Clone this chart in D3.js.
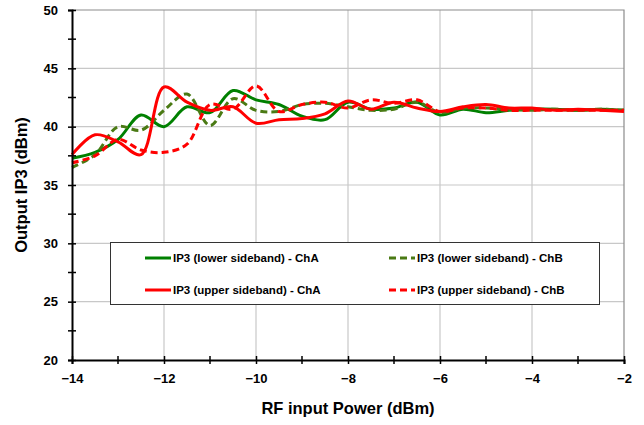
<!DOCTYPE html>
<html>
<head>
<meta charset="utf-8">
<script src="https://cdn.jsdelivr.net/npm/d3@7"></script>
<style>
  body { margin: 0; background: #fff; }
  text { font-family: "Liberation Sans", Arial, sans-serif; font-weight: bold; }
</style>
</head>
<body>
<div id="chart"></div>
<script>
// RF input power (dBm)
const powerIn = [-14, -13.5, -13, -12.5, -12, -11.5, -11, -10.5, -10, -9.5, -9, -8.5, -8,
                 -7.5, -7, -6.5, -6, -5.5, -5, -4.5, -4, -3.5, -3, -2.5, -2];

// Output IP3 (dBm)
const lowerChA = [37.3, 37.8, 38.9, 41.0, 40.0, 41.7, 41.2, 43.1, 42.3, 41.9, 40.9, 40.6, 42.1,
                  41.5, 41.6, 42.1, 41.0, 41.5, 41.2, 41.4, 41.5, 41.5, 41.4, 41.5, 41.4];
const lowerChB = [36.5, 37.6, 40.0, 39.7, 41.4, 42.8, 40.1, 42.4, 41.4, 41.3, 41.9, 42.0, 41.7,
                  41.4, 41.5, 42.1, 41.2, 41.6, 41.6, 41.5, 41.4, 41.5, 41.4, 41.5, 41.4];
const upperChA = [37.6, 39.3, 38.7, 37.6, 43.4, 42.1, 41.4, 41.7, 40.3, 40.6, 40.7, 41.1, 42.2,
                  41.5, 42.1, 41.6, 41.3, 41.7, 41.9, 41.6, 41.6, 41.4, 41.5, 41.4, 41.3];
const upperChB = [36.9, 37.5, 38.9, 38.0, 37.8, 38.5, 41.9, 41.5, 43.5, 41.3, 41.9, 42.1, 41.6,
                  42.3, 42.0, 42.3, 41.3, 41.6, 41.6, 41.4, 41.4, 41.4, 41.4, 41.4, 41.4];

const seriesNames = ["IP3 (lower sideband) - ChA", "IP3 (lower sideband) - ChB",
                     "IP3 (upper sideband) - ChA", "IP3 (upper sideband) - ChB"];

const series = [
    {name: seriesNames[0], values: lowerChA, color: "#008000", dash: null},
    {name: seriesNames[1], values: lowerChB, color: "#4a7a14", dash: "7,4"},
    {name: seriesNames[2], values: upperChA, color: "#ff0000", dash: null},
    {name: seriesNames[3], values: upperChB, color: "#ff0000", dash: "7,4"}
];

const W = 644, H = 425;
const margin = {top: 10, right: 20, bottom: 65, left: 72};
const width = 624 - margin.left, height = 360 - margin.top;

const svg = d3.select("#chart").append("svg")
    .attr("width", W)
    .attr("height", H);

const g = svg.append("g")
    .attr("transform", "translate(" + margin.left + "," + margin.top + ")");

const x = d3.scaleLinear().domain([-14, -2]).range([0, width]);
const y = d3.scaleLinear().domain([20, 50]).range([height, 0]);

// gridlines
g.append("g")
    .selectAll("line")
    .data(d3.range(-12, -2, 2))
    .join("line")
    .attr("x1", d => x(d)).attr("x2", d => x(d))
    .attr("y1", 0).attr("y2", height)
    .attr("stroke", "#c8c8c8").attr("stroke-width", 1.2);

g.append("g")
    .selectAll("line")
    .data(d3.range(25, 50, 5))
    .join("line")
    .attr("x1", 0).attr("x2", width)
    .attr("y1", d => y(d)).attr("y2", d => y(d))
    .attr("stroke", "#c8c8c8").attr("stroke-width", 1.2);

// plot border (top, right)
g.append("path")
    .attr("d", "M0,0H" + width + "V" + height)
    .attr("fill", "none")
    .attr("stroke", "#8c8c8c")
    .attr("stroke-width", 1.2);

// lines
const line = d3.line()
    .x((d, i) => x(powerIn[i]))
    .y(d => y(d))
    .curve(d3.curveCatmullRom.alpha(0.5));

series.forEach(function(s) {
    g.append("path")
        .datum(s.values)
        .attr("fill", "none")
        .attr("stroke", s.color)
        .attr("stroke-width", 3)
        .attr("stroke-dasharray", s.dash)
        .attr("d", line);
});

// axes
const xAxis = g.append("g")
    .attr("transform", "translate(0," + height + ")")
    .call(d3.axisBottom(x).tickValues(d3.range(-14, -1, 2)).tickSize(4).tickSizeInner(4).tickPadding(10)
        .tickFormat(d3.format("d")));
xAxis.selectAll(".tick line").attr("y1", -4);
xAxis.selectAll("text").attr("font-size", 13).attr("fill", "#000");

const xMinor = g.append("g")
    .selectAll("line")
    .data(d3.range(-13, -2, 2))
    .join("line")
    .attr("x1", d => x(d)).attr("x2", d => x(d))
    .attr("y1", height - 4).attr("y2", height + 4)
    .attr("stroke", "#000").attr("stroke-width", 1.5);

const yAxis = g.append("g")
    .call(d3.axisLeft(y).tickValues(d3.range(20, 51, 5)).tickSize(4).tickPadding(10));
yAxis.selectAll(".tick line").attr("x1", 4);
yAxis.selectAll("text").attr("font-size", 13).attr("fill", "#000");

g.append("g")
    .selectAll("line")
    .data(d3.range(22.5, 50, 5))
    .join("line")
    .attr("x1", -4).attr("x2", 4)
    .attr("y1", d => y(d)).attr("y2", d => y(d))
    .attr("stroke", "#000").attr("stroke-width", 1.5);

[xAxis, yAxis].forEach(a => {
    a.select(".domain").attr("stroke-width", 2);
    a.selectAll(".tick line").attr("stroke-width", 1.5);
});

// axis titles
svg.append("text")
    .attr("x", margin.left + width / 2)
    .attr("y", 414)
    .attr("text-anchor", "middle")
    .attr("font-size", 16.5)
    .text("RF input Power (dBm)");

svg.append("text")
    .attr("transform", "translate(27," + (margin.top + height / 2) + ") rotate(-90)")
    .attr("text-anchor", "middle")
    .attr("font-size", 16.5)
    .text("Output IP3 (dBm)");

// legend
const legend = svg.append("g");
legend.append("rect")
    .attr("x", 110.5).attr("y", 242.5)
    .attr("width", 489).attr("height", 62)
    .attr("fill", "#fff")
    .attr("stroke", "#333")
    .attr("stroke-width", 1);

const legendPos = [[145, 258], [389, 258], [145, 290], [389, 290]];
series.forEach(function(s, i) {
    const [lx, ly] = legendPos[i];
    legend.append("line")
        .attr("x1", lx).attr("x2", lx + 26)
        .attr("y1", ly).attr("y2", ly)
        .attr("stroke", s.color)
        .attr("stroke-width", 3)
        .attr("stroke-dasharray", s.dash);
    legend.append("text")
        .attr("x", lx + 28)
        .attr("y", ly + 4)
        .attr("font-size", 11.5)
        .text(s.name);
});
</script>
</body>
</html>
